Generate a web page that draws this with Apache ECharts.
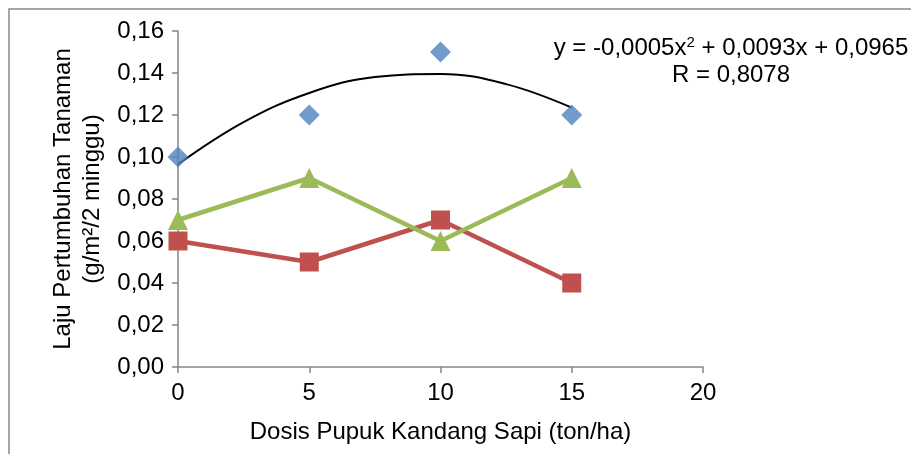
<!DOCTYPE html>
<html>
<head>
<meta charset="utf-8">
<script src="https://cdn.jsdelivr.net/npm/echarts@6/dist/echarts.min.js"></script>
<style>html,body{margin:0;padding:0;background:#fff}#c{width:911px;height:454px}</style>
</head>
<body>
<div id="c"></div>
<script>
var xTicks = [0, 5, 10, 15, 20];
var doses = [0, 5, 10, 15];
var blueVals = [0.10, 0.12, 0.15, 0.12];
var redVals = [0.06, 0.05, 0.07, 0.04];
var greenVals = [0.07, 0.09, 0.06, 0.09];
var trendX = [0, 2.5, 5, 7.5, 10, 12.5, 15];
var trendY = [0.0965, 0.1166, 0.1305, 0.1381, 0.1395, 0.1347, 0.1235];
var xTitle = 'Dosis Pupuk Kandang Sapi (ton/ha)';
var yTitle = 'Laju Pertumbuhan Tanaman\n(g/m\u00B2/2 minggu)';

function pairs(xs, ys){ return xs.map(function(x,i){ return [x, ys[i]]; }); }
var FONT = '"Liberation Sans", Arial, sans-serif';
var FS = 24;
var chart = echarts.init(document.getElementById('c'));
chart.setOption({
  animation: false,
  backgroundColor: '#fff',
  textStyle: {fontFamily: FONT},
  grid: {left: 178, right: 208, top: 31, bottom: 87},
  xAxis: {
    type: 'value', min: 0, max: 20, interval: 5,
    name: xTitle, nameLocation: 'middle', nameGap: 53,
    nameTextStyle: {fontSize: FS, color: '#000', fontFamily: FONT},
    axisLine: {lineStyle: {color: '#868686', width: 1.5}},
    axisTick: {show: true, length: 6, lineStyle: {color: '#868686', width: 1.5}},
    axisLabel: {fontSize: FS, color: '#000', margin: 14, fontFamily: FONT},
    splitLine: {show: false}
  },
  yAxis: {
    type: 'value', min: 0, max: 0.16, interval: 0.02,
    name: yTitle, nameLocation: 'middle', nameGap: 69, nameRotate: 90,
    nameTextStyle: {fontSize: FS, color: '#000', lineHeight: 29, align: 'center', fontFamily: FONT},
    axisLine: {show: true, lineStyle: {color: '#868686', width: 1.5}},
    axisTick: {show: true, length: 6, lineStyle: {color: '#868686', width: 1.5}},
    axisLabel: {fontSize: FS, color: '#000', margin: 14, fontFamily: FONT,
      formatter: function(v){ return v.toFixed(2).replace('.', ','); }},
    splitLine: {show: false}
  },
  series: [
    {type: 'line', data: pairs(trendX, trendY), smooth: 0.4, showSymbol: false, symbol: 'none',
     lineStyle: {color: '#000', width: 2}, z: 2},
    {type: 'scatter', data: pairs(doses, blueVals), symbol: 'diamond', symbolSize: 21,
     itemStyle: {color: '#4F81BD'}, z: 3},
    {type: 'line', data: pairs(doses, redVals), symbol: 'rect', symbolSize: 19, showAllSymbol: true,
     lineStyle: {color: '#C0504D', width: 4.5}, itemStyle: {color: '#C0504D'}, z: 4},
    {type: 'line', data: pairs(doses, greenVals), symbol: 'triangle', symbolSize: 20, showAllSymbol: true,
     lineStyle: {color: '#9BBB59', width: 4.5}, itemStyle: {color: '#9BBB59'}, z: 5}
  ],
  graphic: [
    {type: 'rect', shape: {x: 9, y: 9, width: 1000, height: 1000}, silent: true,
     style: {fill: 'none', stroke: '#898989', lineWidth: 1.5}, z: -1},
    {type: 'text', x: 731, y: 48, silent: true,
     style: {text: '{a|y = -0,0005x}{s|2}{a| + 0,0093x + 0,0965}', align: 'center', verticalAlign: 'middle',
       rich: {a: {fontSize: FS, fontFamily: FONT, color: '#000'},
              s: {fontSize: 15, fontFamily: FONT, verticalAlign: 'top', padding: [0,0,10,0], color: '#000'}}}},
    {type: 'text', x: 731, y: 75, silent: true,
     style: {text: 'R = 0,8078', fontSize: FS, fontFamily: FONT, fill: '#000', align: 'center', verticalAlign: 'middle'}}
  ]
});
</script>
</body>
</html>
